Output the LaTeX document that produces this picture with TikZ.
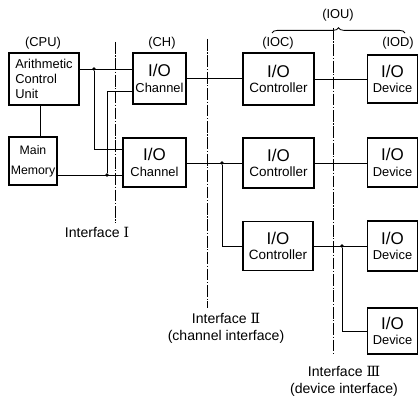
\documentclass[tikz,border=0pt]{standalone}
\usepackage{fontspec}
\setmainfont{Liberation Sans}
\newfontfamily\romfont{DejaVu Serif}
\usetikzlibrary{decorations.pathreplacing}

\begin{document}
\begin{tikzpicture}[x=0.03cm,y=-0.03cm,
  unit/.style={draw,line width=1.2pt,inner sep=0pt,align=center,font=\fontsize{11}{13}\selectfont},
  wire/.style={line width=0.8pt},
  iface/.style={line width=0.7pt,dash pattern=on 10pt off 1.5pt on 1pt off 1.5pt},
  tag/.style={font=\fontsize{11}{13}\selectfont},
  itag/.style={font=\fontsize{12}{14.5}\selectfont},
  dot/.style={circle,fill,inner sep=0pt,minimum size=3.2pt}]
  \useasboundingbox (0,0) rectangle (419,397);
  \newcommand\bigio{{\fontsize{14.5}{16}\selectfont I/O}}
  % units
  \node[unit,align=left,minimum width=2.1cm,minimum height=1.56cm,font=\fontsize{11}{12.8}\selectfont] (cpu) at (44,79) {Arithmetic\\Control\\Unit};
  \node[unit,minimum width=1.44cm,minimum height=1.44cm,font=\fontsize{10.5}{17}\selectfont] (mem) at (33,161) {Main\\Memory};
  \node[unit,minimum width=1.59cm,minimum height=1.53cm] (ch1) at (159.5,78.5) {\bigio\\Channel};
  \node[unit,minimum width=1.89cm,minimum height=1.47cm] (ch2) at (154.5,162.5) {\bigio\\Channel};
  \node[unit,minimum width=2.13cm,minimum height=1.56cm,font=\fontsize{11.5}{13}\selectfont] (ctl1) at (278.5,79) {\bigio\\Controller};
  \node[unit,minimum width=2.13cm,minimum height=1.5cm,font=\fontsize{11.5}{13}\selectfont] (ctl2) at (278.5,163) {\bigio\\Controller};
  \node[unit,minimum width=2.1cm,minimum height=1.47cm,font=\fontsize{11.5}{13}\selectfont] (ctl3) at (278,246) {\bigio\\Controller};
  \node[unit,minimum width=1.5cm,minimum height=1.44cm] (dev1) at (392.5,79) {\bigio\\Device};
  \node[unit,minimum width=1.5cm,minimum height=1.47cm] (dev2) at (392.5,162.5) {\bigio\\Device};
  \node[unit,minimum width=1.5cm,minimum height=1.5cm] (dev3) at (392.5,246) {\bigio\\Device};
  \node[unit,minimum width=1.5cm,minimum height=1.38cm] (dev4) at (392.5,331) {\bigio\\Device};
  % unit tags
  \node[tag] (cputag) at (43,43) {(CPU)};
  \node[tag] (chtag) at (162,43) {(CH)};
  \node[tag] (ioctag) at (278,43) {(IOC)};
  \node[tag] (iodtag) at (398,43) {(IOD)};
  \node[tag] (ioutag) at (338,15) {(IOU)};
  \draw[line width=0.7pt,decorate,decoration={brace,amplitude=4.5pt}] (272,33) -- (405,33);
  % CPU side
  \draw[wire] ([xshift=-0.12cm]cpu.south) -- ([xshift=-0.12cm]cpu.south |- mem.north);
  \node[dot] (j1) at (94,69) {};
  \coordinate (k1) at (94,149);
  \draw[wire] (cpu.east |- j1) -- (ch1.west |- j1);
  \draw[wire] (j1) -- (k1) -- (k1 -| ch2.west);
  \node[dot] (j2) at (107,175) {};
  \coordinate (k2) at (107,91);
  \draw[wire] (ch1.west |- k2) -- (k2) -- (j2);
  \draw[wire] (mem.east |- j2) -- (ch2.west |- j2);
  % channel side
  \draw[wire] (ch1.east) -- (ctl1.west |- ch1.east);
  \draw[wire] (ctl1.east) -- (dev1.west);
  \node[dot] (j3) at (222,163) {};
  \draw[wire] (ch2.east |- j3) -- (ctl2.west |- j3);
  \draw[wire] (j3) |- (ctl3.west);
  \draw[wire] (ctl2.east) -- (dev2.west |- ctl2.east);
  \node[dot] (j4) at (342,246) {};
  \draw[wire] (ctl3.east) -- (dev3.west);
  \draw[wire] (j4) |- (dev4.west);
  % interfaces
  \coordinate (if1a) at (115,42);
  \coordinate (if1b) at (115,223);
  \coordinate (if2a) at (207,39);
  \coordinate (if2b) at (207,308);
  \coordinate (if3a) at (333,28);
  \coordinate (if3b) at (333,355);
  \draw[iface] (if1a) -- (if1b);
  \draw[iface] (if2a) -- (if2b);
  \draw[iface] (if3a) -- (if3b);
  \node[itag] (if1) at (97,232) {Interface {\romfont Ⅰ}};
  \node[itag,align=center] (if2) at (226,328.5) {Interface {\romfont Ⅱ}\\(channel interface)};
  \node[itag,align=center] (if3) at (344,381.5) {Interface {\romfont Ⅲ}\\(device interface)};
\end{tikzpicture}
\end{document}
